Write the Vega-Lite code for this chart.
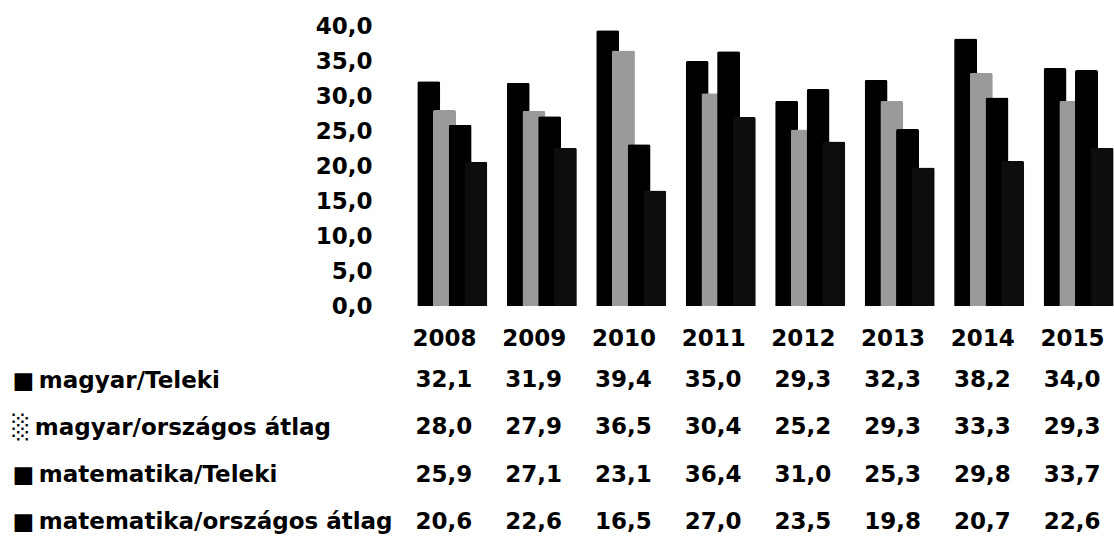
{
  "$schema": "https://vega.github.io/schema/vega-lite/v6.json",
  "padding": {"left": 12, "top": 15, "right": 0, "bottom": 0},
  "background": "white",
  "bounds": "flush",
  "spacing": 65,
  "config": {
    "locale": {"number": {"decimal": ",", "thousands": " ", "grouping": [3], "currency": ["", ""]}},
    "view": {"stroke": null},
    "font": "DejaVu Sans"
  },
  "data": {
    "values": [
      {"year": "2008", "series": "magyar/Teleki", "value": 32.1},
      {"year": "2008", "series": "magyar/országos átlag", "value": 28.0},
      {"year": "2008", "series": "matematika/Teleki", "value": 25.9},
      {"year": "2008", "series": "matematika/országos átlag", "value": 20.6},
      {"year": "2009", "series": "magyar/Teleki", "value": 31.9},
      {"year": "2009", "series": "magyar/országos átlag", "value": 27.9},
      {"year": "2009", "series": "matematika/Teleki", "value": 27.1},
      {"year": "2009", "series": "matematika/országos átlag", "value": 22.6},
      {"year": "2010", "series": "magyar/Teleki", "value": 39.4},
      {"year": "2010", "series": "magyar/országos átlag", "value": 36.5},
      {"year": "2010", "series": "matematika/Teleki", "value": 23.1},
      {"year": "2010", "series": "matematika/országos átlag", "value": 16.5},
      {"year": "2011", "series": "magyar/Teleki", "value": 35.0},
      {"year": "2011", "series": "magyar/országos átlag", "value": 30.4},
      {"year": "2011", "series": "matematika/Teleki", "value": 36.4},
      {"year": "2011", "series": "matematika/országos átlag", "value": 27.0},
      {"year": "2012", "series": "magyar/Teleki", "value": 29.3},
      {"year": "2012", "series": "magyar/országos átlag", "value": 25.2},
      {"year": "2012", "series": "matematika/Teleki", "value": 31.0},
      {"year": "2012", "series": "matematika/országos átlag", "value": 23.5},
      {"year": "2013", "series": "magyar/Teleki", "value": 32.3},
      {"year": "2013", "series": "magyar/országos átlag", "value": 29.3},
      {"year": "2013", "series": "matematika/Teleki", "value": 25.3},
      {"year": "2013", "series": "matematika/országos átlag", "value": 19.8},
      {"year": "2014", "series": "magyar/Teleki", "value": 38.2},
      {"year": "2014", "series": "magyar/országos átlag", "value": 33.3},
      {"year": "2014", "series": "matematika/Teleki", "value": 29.8},
      {"year": "2014", "series": "matematika/országos átlag", "value": 20.7},
      {"year": "2015", "series": "magyar/Teleki", "value": 34.0},
      {"year": "2015", "series": "magyar/országos átlag", "value": 29.3},
      {"year": "2015", "series": "matematika/Teleki", "value": 33.7},
      {"year": "2015", "series": "matematika/országos átlag", "value": 22.6}
    ]
  },
  "vconcat": [
    {
      "width": 697,
      "height": 280,
      "mark": {"type": "bar", "width": 23, "cornerRadiusTopLeft": 2, "cornerRadiusTopRight": 2},
      "encoding": {
        "x": {"field": "year", "type": "ordinal", "axis": null, "scale": {"paddingInner": 0.21, "paddingOuter": 0}},
        "xOffset": {"field": "series", "type": "nominal", "sort": ["magyar/Teleki", "magyar/országos átlag", "matematika/Teleki", "matematika/országos átlag"], "scale": {"paddingInner": 0, "paddingOuter": 0.25}},
        "y": {
          "field": "value", "type": "quantitative",
          "scale": {"domain": [0, 40]},
          "axis": {"values": [0, 5, 10, 15, 20, 25, 30, 35, 40], "format": ".1f", "grid": false, "domain": false, "ticks": false, "labelFontSize": 23, "labelFontWeight": "bold", "labelColor": "black", "labelPadding": 45, "title": null}
        },
        "color": {
          "field": "series", "type": "nominal",
          "scale": {"domain": ["magyar/Teleki", "magyar/országos átlag", "matematika/Teleki", "matematika/országos átlag"], "range": ["#000000", "#9a9a9a", "#000000", "#0d0d0d"]},
          "legend": null
        }
      }
    },
    {
      "width": 682,
      "height": 160,
      "mark": {"type": "text", "fontSize": 23, "fontWeight": "bold", "color": "black"},
      "encoding": {
        "x": {
          "field": "year", "type": "ordinal",
          "scale": {"type": "point", "padding": 0.3},
          "axis": {"orient": "top", "domain": false, "ticks": false, "labelAngle": 0, "labelFontSize": 23, "labelFontWeight": "bold", "labelColor": "black", "labelPadding": 21, "title": null}
        },
        "y": {
          "field": "series", "type": "nominal",
          "sort": ["magyar/Teleki", "magyar/országos átlag", "matematika/Teleki", "matematika/országos átlag"],
          "scale": {"type": "point", "padding": 0.2},
          "axis": {"domain": false, "ticks": false, "grid": false, "labelAlign": "left", "labelPadding": 405, "labelLimit": 600, "labelFontSize": 23, "labelFontWeight": "bold", "labelColor": "black", "title": null,
            "labelExpr": "(datum.label == 'magyar/országos átlag' ? '░\u2009' : '■\u2009') + datum.label"}
        },
        "text": {"field": "value", "type": "quantitative", "format": ".1f"}
      }
    }
  ],
  "resolve": {"scale": {"x": "independent", "y": "independent", "color": "independent"}}
}
